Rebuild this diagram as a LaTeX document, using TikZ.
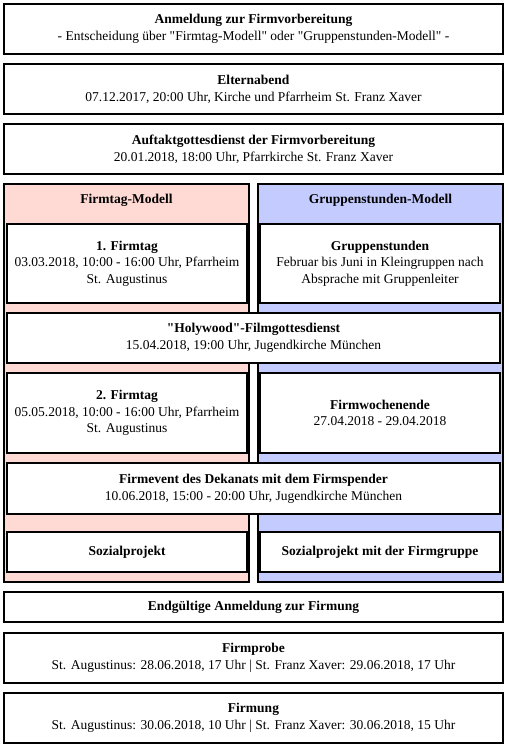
\documentclass[tikz,border=0pt]{standalone}
\usepackage{fontspec}
\setmainfont{Liberation Serif}
\definecolor{pinkbg}{RGB}{255,218,212}
\definecolor{bluebg}{RGB}{196,204,255}
\newcommand{\qq}{\textquotedbl}
\begin{document}
\begin{tikzpicture}[x=1pt,y=-1pt,
  box/.style={draw=black,line width=1.3pt,fill=white,inner sep=0pt,outer sep=0pt,align=center,
    font=\fontsize{13.5}{16.7}\selectfont},
  wide/.style={box,minimum width=499pt},
  inwide/.style={box,minimum width=493pt},
  half/.style={box,minimum width=240pt},
  col/.style={draw=black,line width=1.3pt,inner sep=0pt,outer sep=0pt,minimum width=245pt,minimum height=398pt},
  title/.style={font=\fontsize{13.5}{16.7}\selectfont\bfseries,inner sep=0pt}]
\useasboundingbox (0,0) rectangle (509,748);
\fill[white] (0,0) rectangle (509,748);
\node[wide,minimum height=50pt] (anm) at (253.5,29) {\textbf{Anmeldung zur Firmvorbereitung}\\- Entscheidung über \qq Firmtag-Modell\qq{} oder \qq Gruppenstunden-Modell\qq{} -};
\node[wide,minimum height=50pt] (eltern) at (253.5,89) {\textbf{Elternabend}\\07.12.2017, 20:00 Uhr, Kirche und Pfarrheim St. Franz Xaver};
\node[wide,minimum height=50pt] (auftakt) at (253.5,149) {\textbf{Auftaktgottesdienst der Firmvorbereitung}\\20.01.2018, 18:00 Uhr, Pfarrkirche St. Franz Xaver};
\node[col,fill=pinkbg] (pcol) at (126.5,383) {};
\node[col,fill=bluebg] (bcol) at (380.5,383) {};
\node[title] (ptitle) at (126.5,200) {Firmtag-Modell};
\node[title] (btitle) at (380.5,200) {Gruppenstunden-Modell};
\node[half,minimum height=79pt] (ft1) at (127,263.5) {\textbf{1. Firmtag}\\03.03.2018, 10:00 - 16:00 Uhr, Pfarrheim\\St. Augustinus};
\node[half,minimum height=79pt] (gs) at (380,263.5) {\textbf{Gruppenstunden}\\Februar bis Juni in Kleingruppen nach\\Absprache mit Gruppenleiter};
\node[inwide,minimum height=50pt] (holy) at (253.5,338) {\textbf{\qq Holywood\qq -Filmgottesdienst}\\15.04.2018, 19:00 Uhr, Jugendkirche München};
\node[half,minimum height=80pt] (ft2) at (127,413) {\textbf{2. Firmtag}\\05.05.2018, 10:00 - 16:00 Uhr, Pfarrheim\\St. Augustinus};
\node[half,minimum height=80pt] (fwe) at (380,413) {\textbf{Firmwochenende}\\27.04.2018 - 29.04.2018};
\node[inwide,minimum height=51pt] (event) at (253.5,488.5) {\textbf{Firmevent des Dekanats mit dem Firmspender}\\10.06.2018, 15:00 - 20:00 Uhr, Jugendkirche München};
\node[half,minimum height=40pt] (soz1) at (127,552) {\textbf{Sozialprojekt}};
\node[half,minimum height=40pt] (soz2) at (380,552) {\textbf{Sozialprojekt mit der Firmgruppe}};
\node[wide,minimum height=30pt] (endg) at (253.5,607) {\textbf{Endgültige Anmeldung zur Firmung}};
\node[wide,minimum height=50pt] (probe) at (253.5,658) {\textbf{Firmprobe}\\St. Augustinus: 28.06.2018, 17 Uhr | St. Franz Xaver: 29.06.2018, 17 Uhr};
\node[wide,minimum height=50pt] (firmung) at (253.5,718) {\textbf{Firmung}\\St. Augustinus: 30.06.2018, 10 Uhr | St. Franz Xaver: 30.06.2018, 15 Uhr};
\end{tikzpicture}
\end{document}
